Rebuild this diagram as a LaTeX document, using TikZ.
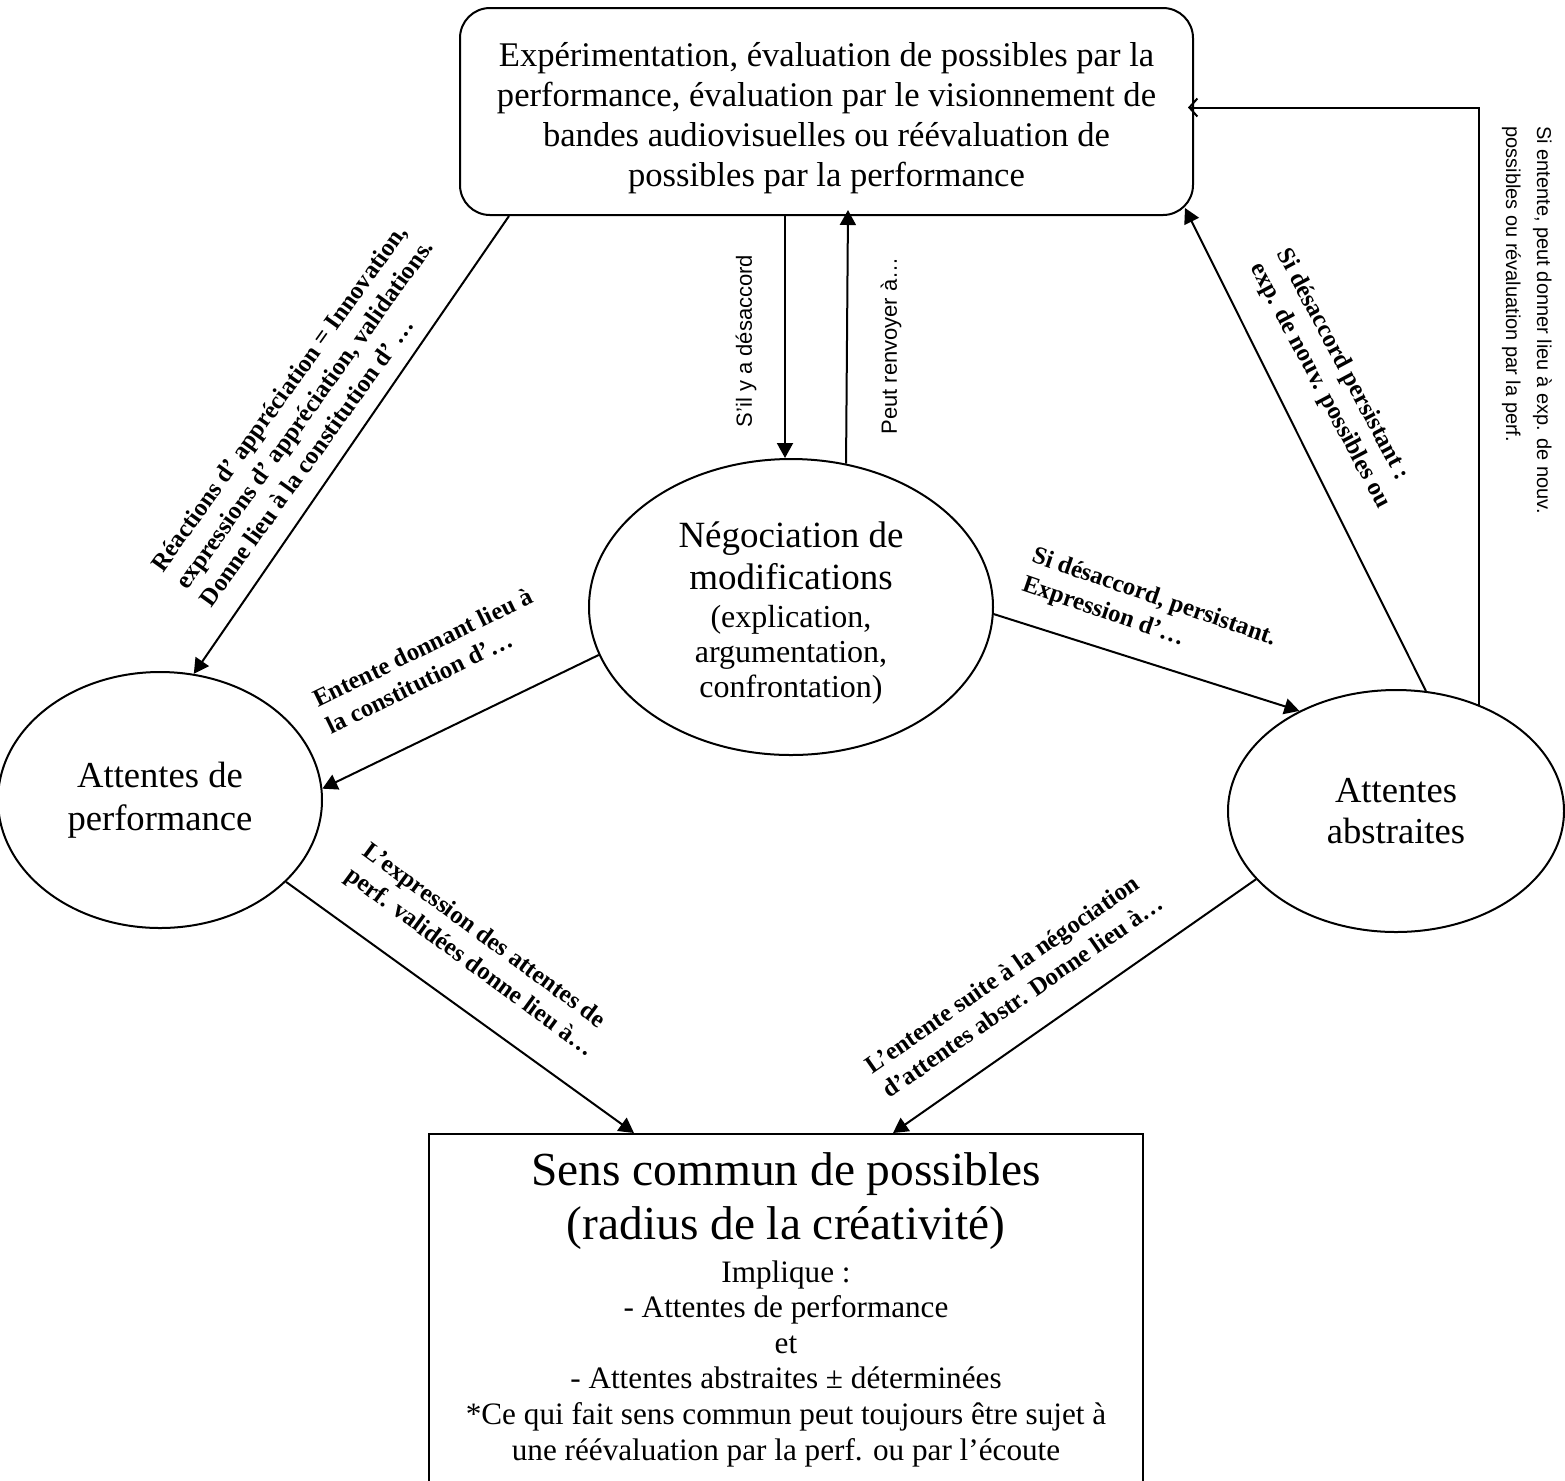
\documentclass[tikz,border=0pt]{standalone}
\usepackage{fontspec}
\setmainfont{Liberation Serif}
\setsansfont{Liberation Sans}
\usetikzlibrary{shapes.geometric,arrows.meta,calc}
\newcommand\nolskip{\lineskiplimit-100pt\relax}
\begin{document}
\begin{tikzpicture}[x=0.5pt,y=-0.5pt,
  conn/.style={line width=1pt,-{Triangle[length=7.5pt,width=8pt]}},
  openarr/.style={line width=1pt,-{Straight Barb[length=4pt,width=9pt]}},
  ell/.style={draw,ellipse,line width=1pt,inner sep=0pt,align=center},
  wa/.style={font=\bfseries\fontsize{12.4}{15}\selectfont,align=left,inner sep=0pt},
  sanslbl/.style={font=\sffamily\fontsize{11}{13}\selectfont,inner sep=0pt},
  boxnode/.style={draw,line width=1pt,inner sep=0pt,align=center},
  txt/.style={inner sep=0pt,align=center}]
\useasboundingbox (0,0) rectangle (1565,1480);

% main nodes
\node[boxnode,rounded corners=15pt,minimum width=366.5pt,minimum height=103.5pt] (T) at (826.5,111.5) {};
\node[txt,font=\fontsize{17.3}{20}\selectfont] (Ttext) at (826.5,118)
  {Expérimentation, évaluation de possibles par la\\
   performance, évaluation par le visionnement de\\
   bandes audiovisuelles ou réévaluation de\\
   possibles par la performance};

\node[ell,minimum width=202pt,minimum height=148pt] (N) at (791,607) {};
\node[txt,font=\fontsize{16}{17.5}\selectfont\nolskip] (Ntext) at (791,613)
  {\fontsize{18.5}{21}\selectfont Négociation de\\[3.5pt]
   \fontsize{18.5}{21}\selectfont modifications\\[1.5pt]
   (explication,\\
   argumentation,\\
   confrontation)};

\node[ell,minimum width=162pt,minimum height=128pt,
  font=\fontsize{18.3}{21.5}\selectfont] (L) at (160,800)
  {Attentes de\\ performance};

\node[ell,minimum width=168pt,minimum height=121pt,
  font=\fontsize{18.3}{20.5}\selectfont] (R) at (1396,811)
  {Attentes\\ abstraites};

\node[boxnode,anchor=north west,minimum width=357pt,minimum height=175.5pt,
  font=\fontsize{15.6}{17.8}\selectfont\nolskip] (B) at (428,1133)
  {\fontsize{23.7}{27}\selectfont Sens commun de possibles\\[9.2pt]
   \fontsize{23.7}{27}\selectfont (radius de la créativité)\\[3.7pt]
   Implique :\\
   - Attentes de performance\\
   et\\
   - Attentes abstraites ± déterminées\\
   *Ce qui fait sens commun peut toujours être sujet à\\
   une réévaluation par la perf. ou par l’écoute};

% coordinates for connector ends on the boxes
\coordinate (bstart) at ($(T.south)+(-41.5,0)$);
\coordinate (cend) at ($(T.south)+(21.5,-6)$);
\coordinate (dend) at ($(T.south east)+(-9,-8)$);
\coordinate (eend) at ($(T.east)+(-6,-4)$);
\coordinate (astart) at ($(T.south west)+(50,0)$);
\coordinate (hend) at ($(B.north west)+(206,0)$);
\coordinate (iend) at ($(B.north west)+(465,0)$);

% connectors
\draw[conn] (astart) -- (L.75.2);
\draw[conn] (bstart) -- (bstart |- N.north);
\draw[conn] (N.69.4) -- (cend);
\draw[conn] (R.76.4) -- (dend);
\draw[openarr] (R.52.8) |- (eend);
\draw[conn] (N.194.1) -- (L.4.2);
\draw[conn] (N.-2.2) -- (R.134.1);
\draw[conn] (L.-33) -- (hend);
\draw[conn] (R.206.6) -- (iend);

% labels
\node[wa,rotate=54.3] (l1) at (304,414)
  {Réactions d’ appréciation = Innovation,\\
   expressions d’ appréciation, validations.\\
   Donne lieu à la constitution d’ …};
\node[sanslbl,rotate=90] (l2) at (746,341) {S’il y a désaccord};
\node[sanslbl,rotate=90] (l3) at (891,346) {Peut renvoyer à…};
\node[wa,rotate=-62] (l4) at (1333,379)
  {Si désaccord persistant :\\ exp. de nouv. possibles ou};
\node[font=\sffamily\fontsize{10}{15.5}\selectfont,align=left,inner sep=0pt,rotate=-90] (l5) at (1527,320)
  {Si entente, peut donner lieu à exp. de nouv.\\ possibles ou révaluation par la perf.};
\node[wa,rotate=26] (l6) at (429,661)
  {Entente donnant lieu à\\ la constitution d’…};
\node[wa,rotate=-19] (l7) at (1149,612)
  {Si désaccord, persistant.\\ Expression d’…};
\node[wa,rotate=-36.3] (l8) at (478,951)
  {L’expression des attentes de\\ perf. validées donne lieu à…};
\node[wa,rotate=34.8] (l9) at (1014,984)
  {L’entente suite à la négociation\\ d’attentes abstr. Donne lieu à…};
\end{tikzpicture}
\end{document}
